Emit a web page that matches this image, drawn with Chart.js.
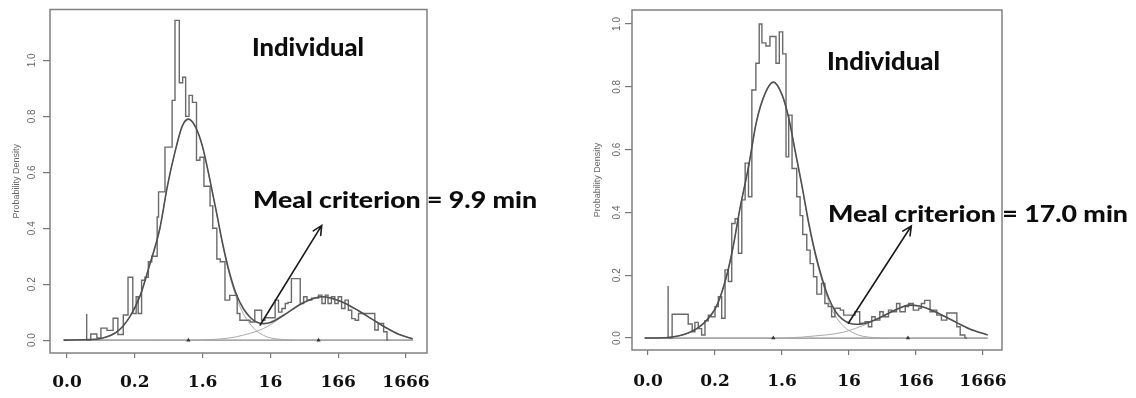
<!DOCTYPE html>
<html>
<head>
<meta charset="utf-8">
<script src="https://cdn.jsdelivr.net/npm/chart.js@4.4.1/dist/chart.umd.min.js"></script>
<style>
  html, body { margin: 0; padding: 0; background: #fff; }
  #wrap { position: relative; width: 1136px; height: 398px; overflow: hidden; }
  canvas { position: absolute; top: 0; }
  #left { left: 0; }
  #right { left: 568px; }
</style>
</head>
<body>
<div id="wrap">
  <canvas id="left" width="568" height="398"></canvas>
  <canvas id="right" width="568" height="398"></canvas>
</div>
<script>
// x is log10(seconds); tick labels are the same points in minutes
const xTickValues = [0, 1, 2, 3, 4, 5];
const xTickLabels = ["0.0", "0.2", "1.6", "16", "166", "1666"];
const yTickValues = [0, 0.2, 0.4, 0.6, 0.8, 1.0];

// left panel: histogram (bin start, density)
const leftHistEdges = [0.29, 0.35, 0.44, 0.50, 0.59, 0.68, 0.75, 0.83, 0.90, 0.97, 1.02, 1.05, 1.10, 1.15, 1.20, 1.25, 1.33, 1.35, 1.445, 1.55, 1.593, 1.656, 1.706, 1.75, 1.80, 1.85, 1.91, 1.96, 2.02, 2.11, 2.15, 2.21, 2.26, 2.33, 2.40, 2.51, 2.55, 2.70, 2.77, 2.87, 2.92, 3.07, 3.12, 3.17, 3.22, 3.26, 3.31, 3.44, 3.49, 3.54, 3.61, 3.71, 3.76, 3.81, 3.85, 3.90, 3.95, 4.00, 4.05, 4.10, 4.15, 4.20, 4.25, 4.30, 4.54, 4.59, 4.67, 4.72, 4.74];
const leftHistDensity = [0.093, 0, 0.022, 0.008, 0.043, 0.035, 0.078, 0.02, 0.09, 0.225, 0.095, 0.155, 0.095, 0.214, 0.225, 0.28, 0.3, 0.44, 0.53, 0.69, 0.857, 1.143, 0.92, 0.94, 0.80, 0.875, 0.85, 0.643, 0.654, 0.55, 0.48, 0.40, 0.29, 0.28, 0.143, 0.16, 0.095, 0.071, 0.065, 0.107, 0.071, 0.08, 0.143, 0.10, 0.113, 0.131, 0.135, 0.22, 0.131, 0.155, 0.143, 0.15, 0.161, 0.131, 0.161, 0.131, 0.155, 0.131, 0.155, 0.113, 0.143, 0.107, 0.077, 0.071, 0.095, 0.036, 0.06, 0.03, 0];

// left panel: fitted curves
const leftCurveX = [-0.05, 0.3, 0.5, 0.74, 0.93, 1.08, 1.22, 1.37, 1.48, 1.6, 1.7, 1.79, 1.9, 2.0, 2.1, 2.2, 2.3, 2.4, 2.5, 2.6, 2.7, 2.8, 2.9, 3.0, 3.2, 3.4, 3.6, 3.75, 3.9, 4.1, 4.3, 4.5, 4.7, 4.9, 5.1];
const leftComp1 = [0, 0.002, 0.006, 0.03, 0.085, 0.16, 0.27, 0.40, 0.55, 0.68, 0.765, 0.79, 0.76, 0.69, 0.58, 0.46, 0.335, 0.23, 0.15, 0.095, 0.058, 0.032, 0.017, 0.008, 0.002, 0, 0, 0, 0, 0, 0, 0, 0, 0, 0];
const leftComp2 = [0, 0, 0, 0, 0, 0, 0, 0, 0, 0, 0, 0, 0, 0.001, 0.002, 0.003, 0.005, 0.008, 0.012, 0.018, 0.024, 0.032, 0.042, 0.055, 0.088, 0.122, 0.146, 0.155, 0.15, 0.132, 0.105, 0.075, 0.045, 0.02, 0.005];
const leftMixture = [0, 0.002, 0.006, 0.03, 0.085, 0.16, 0.27, 0.40, 0.55, 0.68, 0.765, 0.79, 0.76, 0.691, 0.582, 0.463, 0.34, 0.238, 0.162, 0.113, 0.082, 0.064, 0.059, 0.063, 0.09, 0.122, 0.146, 0.155, 0.15, 0.132, 0.105, 0.075, 0.045, 0.02, 0.005];
const leftMeans = [1.79, 3.71];
const leftArrow = [[2.85, 0.054], [3.757, 0.41]];

// right panel: histogram
const rightHistEdges = [0.30, 0.36, 0.60, 0.66, 0.70, 0.75, 0.80, 0.85, 0.90, 0.94, 1.00, 1.05, 1.10, 1.15, 1.20, 1.25, 1.30, 1.35, 1.40, 1.45, 1.50, 1.55, 1.61, 1.66, 1.70, 1.76, 1.82, 1.91, 1.96, 2.01, 2.06, 2.10, 2.15, 2.22, 2.27, 2.31, 2.37, 2.42, 2.47, 2.52, 2.59, 2.64, 2.69, 2.74, 2.79, 2.87, 2.92, 3.09, 3.16, 3.24, 3.29, 3.34, 3.39, 3.46, 3.51, 3.59, 3.64, 3.71, 3.76, 3.84, 3.89, 3.96, 4.04, 4.08, 4.13, 4.21, 4.26, 4.31, 4.38, 4.46, 4.61, 4.66, 4.73, 4.76];
const rightHistDensity = [0.166, 0, 0.076, 0.045, 0.02, 0.05, 0.03, 0.01, 0.055, 0.073, 0.068, 0.10, 0.132, 0.063, 0.217, 0.18, 0.365, 0.38, 0.27, 0.44, 0.557, 0.45, 0.79, 0.875, 1.0, 0.94, 0.93, 0.96, 0.875, 0.975, 0.905, 0.577, 0.71, 0.54, 0.45, 0.39, 0.33, 0.28, 0.237, 0.195, 0.14, 0.174, 0.11, 0.10, 0.068, 0.095, 0.089, 0.073, 0.084, 0.047, 0.052, 0.036, 0.068, 0.057, 0.084, 0.068, 0.089, 0.084, 0.11, 0.084, 0.10, 0.11, 0.089, 0.095, 0.11, 0.12, 0.084, 0.089, 0.073, 0.057, 0.08, 0.036, 0.01, 0];

// right panel: fitted curves
const rightCurveX = [-0.05, 0.3, 0.6, 0.82, 1.03, 1.17, 1.27, 1.37, 1.5, 1.62, 1.75, 1.87, 2.0, 2.1, 2.2, 2.3, 2.4, 2.5, 2.6, 2.7, 2.8, 2.9, 3.0, 3.1, 3.2, 3.4, 3.6, 3.75, 3.9, 4.05, 4.2, 4.4, 4.6, 4.8, 5.07];
const rightComp1 = [0, 0.002, 0.016, 0.045, 0.105, 0.195, 0.29, 0.41, 0.545, 0.69, 0.78, 0.815, 0.775, 0.70, 0.59, 0.48, 0.36, 0.26, 0.18, 0.115, 0.07, 0.042, 0.024, 0.013, 0.006, 0.001, 0, 0, 0, 0, 0, 0, 0, 0, 0];
const rightComp2 = [0, 0, 0, 0, 0, 0, 0, 0, 0, 0, 0, 0, 0, 0.001, 0.002, 0.003, 0.005, 0.007, 0.009, 0.011, 0.014, 0.018, 0.024, 0.031, 0.039, 0.058, 0.08, 0.095, 0.105, 0.102, 0.092, 0.072, 0.05, 0.029, 0.01];
const rightMixture = [0, 0.002, 0.016, 0.045, 0.105, 0.195, 0.29, 0.41, 0.545, 0.69, 0.78, 0.815, 0.775, 0.701, 0.592, 0.483, 0.365, 0.267, 0.189, 0.126, 0.084, 0.06, 0.048, 0.044, 0.045, 0.059, 0.08, 0.095, 0.105, 0.102, 0.092, 0.072, 0.05, 0.029, 0.01];
const rightMeans = [1.87, 3.88];
const rightArrow = [[2.99, 0.047], [3.93, 0.357]];

const leftTitle = "Individual";
const leftNote = "Meal criterion = 9.9 min";
const rightTitle = "Individual";
const rightNote = "Meal criterion = 17.0 min";

function toPoints(xs, ys) {
    return xs.map((x, i) => ({ x: x, y: ys[i] }));
}

function histPoints(edges, vals) {
    const pts = [{ x: edges[0], y: 0 }];
    edges.forEach((e, i) => pts.push({ x: e, y: vals[i] }));
    return pts;
}

// text squeezed/stretched to the width it has in the picture
function drawText(ctx, text, x, baseline, capH, width) {
    const size = capH / 0.7165;
    ctx.font = `900 ${size}px Lato`;
    const w = ctx.measureText(text).width;
    ctx.save();
    ctx.translate(x, baseline);
    ctx.scale(width / w, 1);
    ctx.fillStyle = "#0d0d0d";
    ctx.textBaseline = "alphabetic";
    ctx.textAlign = "left";
    ctx.fillText(text, 0, 0);
    ctx.restore();
}

const framePlugin = {
    id: "frame",
    beforeDatasetsDraw(chart) {
        const a = chart.chartArea;
        const ctx = chart.ctx;
        ctx.save();
        ctx.strokeStyle = "#808080";
        ctx.lineWidth = 1.5;
        ctx.strokeRect(a.left, a.top, a.right - a.left, a.bottom - a.top);
        ctx.restore();
    }
};

const notePlugin = {
    id: "notes",
    afterDraw(chart, args, opts) {
        const ctx = chart.ctx;
        const xs = chart.scales.x, ys = chart.scales.y;
        const x1 = xs.getPixelForValue(opts.arrow[0][0]), y1 = ys.getPixelForValue(opts.arrow[0][1]);
        const x2 = xs.getPixelForValue(opts.arrow[1][0]), y2 = ys.getPixelForValue(opts.arrow[1][1]);
        const ang = Math.atan2(y2 - y1, x2 - x1);
        ctx.save();
        ctx.strokeStyle = "#1a1a1a";
        ctx.lineWidth = 1.6;
        ctx.lineCap = "round";
        ctx.beginPath();
        ctx.moveTo(x1, y1);
        ctx.lineTo(x2, y2);
        ctx.moveTo(x2 - 10 * Math.cos(ang - 0.45), y2 - 10 * Math.sin(ang - 0.45));
        ctx.lineTo(x2, y2);
        ctx.lineTo(x2 - 10 * Math.cos(ang + 0.45), y2 - 10 * Math.sin(ang + 0.45));
        ctx.stroke();
        ctx.restore();
        drawText(ctx, opts.title, opts.titlePos[0], opts.titlePos[1], 17.5, opts.titlePos[2]);
        drawText(ctx, opts.note, opts.notePos[0], opts.notePos[1], 16.5, opts.notePos[2]);
    }
};

function makeChart(id, p) {
    return new Chart(id, {
        type: "line",
        data: {
            datasets: [
                {
                    label: "means",
                    data: p.means.map(m => ({ x: m, y: 0 })),
                    showLine: false,
                    pointStyle: "triangle",
                    pointRadius: 2.5,
                    backgroundColor: "#333",
                    borderWidth: 0,
                    order: 0
                },
                {
                    label: "mixture",
                    data: toPoints(p.curveX, p.mixture),
                    borderColor: "#505050",
                    borderWidth: 1.6,
                    pointRadius: 0,
                    cubicInterpolationMode: "monotone",
                    order: 1
                },
                {
                    label: "histogram",
                    data: histPoints(p.edges, p.density),
                    stepped: "after",
                    borderColor: "#6a6a6a",
                    borderWidth: 1.4,
                    pointRadius: 0,
                    order: 2
                },
                {
                    label: "component 1",
                    data: toPoints(p.curveX, p.comp1),
                    borderColor: "#a8a8a8",
                    borderWidth: 1,
                    pointRadius: 0,
                    cubicInterpolationMode: "monotone",
                    order: 3
                },
                {
                    label: "component 2",
                    data: toPoints(p.curveX, p.comp2),
                    borderColor: "#a8a8a8",
                    borderWidth: 1,
                    pointRadius: 0,
                    cubicInterpolationMode: "monotone",
                    order: 3
                },
                {
                    label: "baseline",
                    data: [{ x: p.curveX[0], y: 0 }, { x: p.curveX[p.curveX.length - 1], y: 0 }],
                    borderColor: "#8a8a8a",
                    borderWidth: 1.2,
                    pointRadius: 0,
                    order: 4
                }
            ]
        },
        options: {
            responsive: false,
            devicePixelRatio: 1,
            animation: false,
            layout: { padding: p.padding },
            plugins: {
                legend: { display: false },
                tooltip: { enabled: false },
                notes: {
                    arrow: p.arrow,
                    title: p.title,
                    note: p.note,
                    titlePos: p.titlePos,
                    notePos: p.notePos
                }
            },
            scales: {
                x: {
                    type: "linear",
                    min: p.xMin,
                    max: p.xMax,
                    afterFit: s => { s.height = p.xHeight; },
                    afterBuildTicks: s => { s.ticks = xTickValues.map(v => ({ value: v })); },
                    ticks: {
                        callback: (v, i) => xTickLabels[i],
                        autoSkip: false,
                        maxRotation: 0,
                        padding: p.xPad,
                        color: "#111",
                        font: { family: "DejaVu Serif", weight: "bold", size: 17 }
                    },
                    grid: { drawOnChartArea: false, drawTicks: true, tickLength: 5, color: "#777", lineWidth: 1.2 },
                    border: { display: false }
                },
                y: {
                    type: "linear",
                    min: p.yMin,
                    max: p.yMax,
                    afterFit: s => { s.width = 50; },
                    afterBuildTicks: s => { s.ticks = yTickValues.map(v => ({ value: v })); },
                    ticks: {
                        callback: v => v.toFixed(1),
                        autoSkip: false,
                        minRotation: 90,
                        maxRotation: 90,
                        crossAlign: "center",
                        padding: p.yPad,
                        color: "#666",
                        font: { family: "Liberation Sans", size: 10 }
                    },
                    grid: { drawOnChartArea: false, drawTicks: true, tickLength: 7, color: "#777", lineWidth: 1.2 },
                    border: { display: false },
                    title: {
                        display: true,
                        text: "Probability Density",
                        color: "#666",
                        font: { family: "Liberation Sans", size: 9 },
                        padding: { top: p.titlePad, bottom: 0 }
                    }
                }
            }
        },
        plugins: [framePlugin, notePlugin]
    });
}

makeChart("left", {
    edges: leftHistEdges, density: leftHistDensity,
    curveX: leftCurveX, comp1: leftComp1, comp2: leftComp2, mixture: leftMixture,
    means: leftMeans, arrow: leftArrow,
    title: leftTitle, note: leftNote,
    titlePos: [252, 56, 112], notePos: [253, 208, 284],
    padding: { left: 0, right: 141, top: 9, bottom: 0 },
    xMin: -0.251, xMax: 5.31, yMin: -0.046, yMax: 1.182,
    xHeight: 45, xPad: 14, yPad: 3.5, titlePad: 11.6
});

makeChart("right", {
    edges: rightHistEdges, density: rightHistDensity,
    curveX: rightCurveX, comp1: rightComp1, comp2: rightComp2, mixture: rightMixture,
    means: rightMeans, arrow: rightArrow,
    title: rightTitle, note: rightNote,
    titlePos: [259, 70, 113], notePos: [260, 222, 300],
    padding: { left: 14, right: 134, top: 10, bottom: 0 },
    xMin: -0.239, xMax: 5.284, yMin: -0.038, yMax: 1.0446,
    xHeight: 48, xPad: 16.5, yPad: 1, titlePad: 10.6
});
</script>
</body>
</html>
